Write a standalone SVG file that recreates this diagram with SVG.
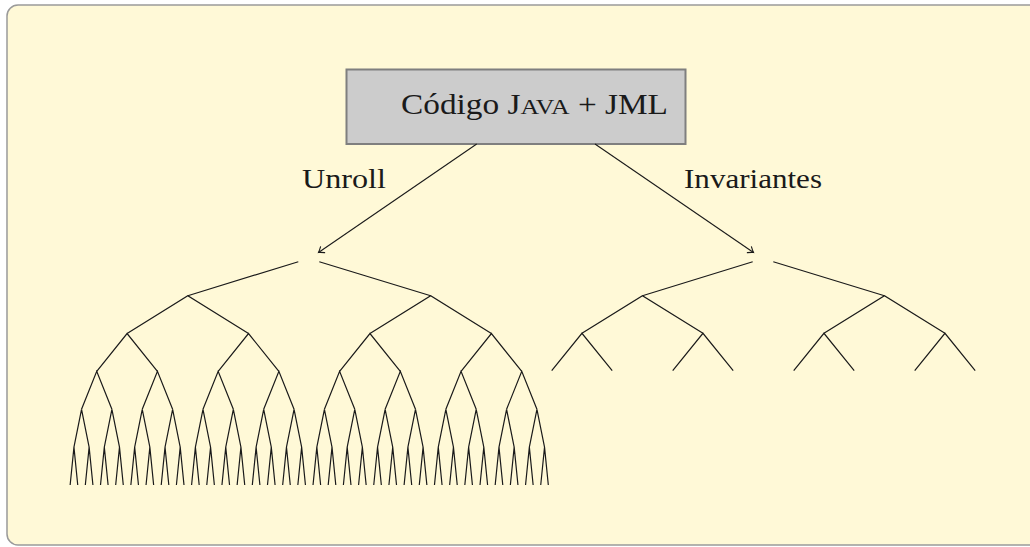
<svg xmlns="http://www.w3.org/2000/svg" width="1030" height="547" viewBox="0 0 1030 547">
<defs>
<style>
.t{font-family:"Liberation Serif","DejaVu Serif",serif;fill:#1a1a1a}
.e{fill:none;stroke:#1a1a1a;stroke-width:1.2;stroke-linejoin:miter}
.a{fill:none;stroke:#1a1a1a;stroke-width:1.1}
</style>
<marker id="to" viewBox="-6 -5 8 10" markerWidth="8" markerHeight="10" refX="0" refY="0" orient="auto" markerUnits="userSpaceOnUse">
<path d="M-5,-3.6 Q-1.6,-0.8 0,0 Q-1.6,0.8 -5,3.6" fill="none" stroke="#1a1a1a" stroke-width="1.1" stroke-linecap="round"/>
</marker>
</defs>
<rect id="panel" x="7" y="5" width="1040" height="540" rx="11" fill="#fff9d7" stroke="#9a9a9a" stroke-width="1.5"/>
<g id="node-codigo">
<rect x="346.5" y="69.5" width="339" height="74.5" fill="#cccccc" stroke="#7f7f7f" stroke-width="2"/>
<text class="t" x="401" y="114" font-size="28.5" textLength="267" lengthAdjust="spacingAndGlyphs">Código J<tspan font-size="22">AVA</tspan> + JML</text>
</g>
<g id="labels">
<text class="t" x="302" y="188" font-size="28" textLength="84" lengthAdjust="spacingAndGlyphs">Unroll</text>
<text class="t" x="684" y="188" font-size="28" textLength="138" lengthAdjust="spacingAndGlyphs">Invariantes</text>
</g>
<g id="connectors">
<path class="a" d="M476.7,144 L318.5,252.5" marker-end="url(#to)"/>
<path class="a" d="M595,144 L753.5,252.5" marker-end="url(#to)"/>
</g>
<g id="tree-unroll" class="e">
<path d="M298.3,261.7 L187.8,295.7 M319.3,261.7 L430.68,295.7"/>
<path d="M127.08,333.5 L187.8,295.7 L248.52,333.5 M369.96,333.5 L430.68,295.7 L491.4,333.5"/>
<path d="M96.72,371.4 L127.08,333.5 L157.44,371.4 M218.16,371.4 L248.52,333.5 L278.88,371.4 M339.6,371.4 L369.96,333.5 L400.32,371.4 M461.04,371.4 L491.4,333.5 L521.76,371.4"/>
<path d="M81.54,409.3 L96.72,371.4 L111.9,409.3 M142.26,409.3 L157.44,371.4 L172.62,409.3 M202.98,409.3 L218.16,371.4 L233.34,409.3 M263.7,409.3 L278.88,371.4 L294.06,409.3 M324.42,409.3 L339.6,371.4 L354.78,409.3 M385.14,409.3 L400.32,371.4 L415.5,409.3 M445.86,409.3 L461.04,371.4 L476.22,409.3 M506.58,409.3 L521.76,371.4 L536.94,409.3"/>
<path d="M73.95,447.1 L81.54,409.3 L89.13,447.1 M104.31,447.1 L111.9,409.3 L119.49,447.1 M134.67,447.1 L142.26,409.3 L149.85,447.1 M165.03,447.1 L172.62,409.3 L180.21,447.1 M195.39,447.1 L202.98,409.3 L210.57,447.1 M225.75,447.1 L233.34,409.3 L240.93,447.1 M256.11,447.1 L263.7,409.3 L271.29,447.1 M286.47,447.1 L294.06,409.3 L301.65,447.1 M316.83,447.1 L324.42,409.3 L332.01,447.1 M347.19,447.1 L354.78,409.3 L362.37,447.1 M377.55,447.1 L385.14,409.3 L392.73,447.1 M407.91,447.1 L415.5,409.3 L423.09,447.1 M438.27,447.1 L445.86,409.3 L453.45,447.1 M468.63,447.1 L476.22,409.3 L483.81,447.1 M498.99,447.1 L506.58,409.3 L514.17,447.1 M529.35,447.1 L536.94,409.3 L544.53,447.1"/>
<path d="M70.15,485 L73.95,447.1 L77.74,485 M85.33,485 L89.13,447.1 L92.92,485 M100.51,485 L104.31,447.1 L108.1,485 M115.69,485 L119.49,447.1 L123.28,485 M130.87,485 L134.67,447.1 L138.46,485 M146.05,485 L149.85,447.1 L153.64,485 M161.23,485 L165.03,447.1 L168.82,485 M176.41,485 L180.21,447.1 L184,485 M191.59,485 L195.39,447.1 L199.18,485 M206.77,485 L210.57,447.1 L214.36,485 M221.95,485 L225.75,447.1 L229.54,485 M237.13,485 L240.93,447.1 L244.72,485 M252.31,485 L256.11,447.1 L259.9,485 M267.49,485 L271.29,447.1 L275.08,485 M282.67,485 L286.47,447.1 L290.26,485 M297.85,485 L301.65,447.1 L305.44,485 M313.03,485 L316.83,447.1 L320.62,485 M328.21,485 L332.01,447.1 L335.8,485 M343.39,485 L347.19,447.1 L350.98,485 M358.57,485 L362.37,447.1 L366.16,485 M373.75,485 L377.55,447.1 L381.34,485 M388.93,485 L392.73,447.1 L396.52,485 M404.11,485 L407.91,447.1 L411.7,485 M419.29,485 L423.09,447.1 L426.88,485 M434.47,485 L438.27,447.1 L442.06,485 M449.65,485 L453.45,447.1 L457.24,485 M464.83,485 L468.63,447.1 L472.42,485 M480.01,485 L483.81,447.1 L487.6,485 M495.19,485 L498.99,447.1 L502.78,485 M510.37,485 L514.17,447.1 L517.96,485 M525.55,485 L529.35,447.1 L533.14,485 M540.73,485 L544.53,447.1 L548.32,485"/>
</g>
<g id="tree-invariantes" class="e">
<path d="M752.7,261.7 L642.45,295.7 M773.3,261.7 L884.45,295.7"/>
<path d="M581.95,333.3 L642.45,295.7 L702.95,333.3 M823.95,333.3 L884.45,295.7 L944.95,333.3"/>
<path d="M551.7,370.7 L581.95,333.3 L612.2,370.7 M672.7,370.7 L702.95,333.3 L733.2,370.7 M793.7,370.7 L823.95,333.3 L854.2,370.7 M914.7,370.7 L944.95,333.3 L975.2,370.7"/>
</g>
</svg>
